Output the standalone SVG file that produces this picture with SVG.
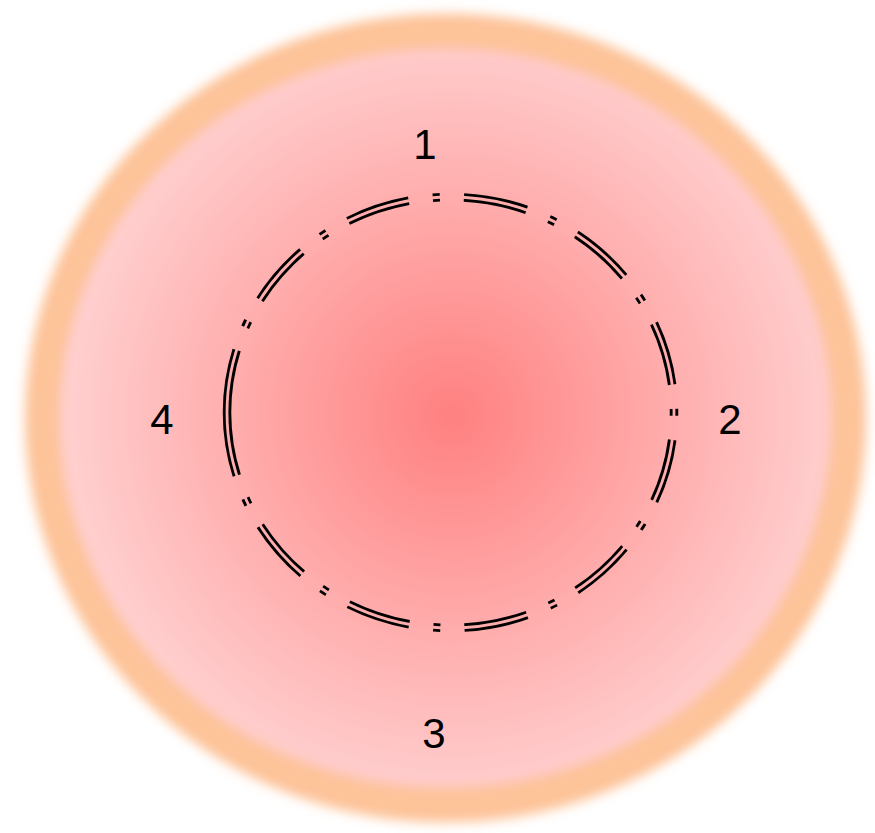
<svg xmlns="http://www.w3.org/2000/svg" width="875" height="833" viewBox="0 0 875 833">
<style>
.label{font-family:"Liberation Sans",Arial,sans-serif;font-size:42px;fill:#000;text-anchor:middle}
.ring{fill:none;stroke:#000;stroke-width:8.5;stroke-dasharray:64 24.25 7 24.25}
</style>
<defs>
<radialGradient id="fillGrad" gradientUnits="userSpaceOnUse" cx="452" cy="415" r="390">
<stop offset="0" stop-color="#ff8080"/>
<stop offset="1" stop-color="#ffd0d0"/>
</radialGradient>
<filter id="soft" x="-10%" y="-10%" width="120%" height="120%">
<feGaussianBlur stdDeviation="6"/>
</filter>
<mask id="doubleLine" maskUnits="userSpaceOnUse" x="0" y="0" width="875" height="833">
<rect width="875" height="833" fill="#fff"/>
<path d="M 227 412.5 A 223.5 215.5 0 0 0 674 412.5 A 223.5 215.5 0 0 0 227 412.5 Z" fill="none" stroke="#000" stroke-width="2.8"/>
</mask>
</defs>
<g id="disc">
<ellipse cx="445.5" cy="418" rx="403" ry="387" fill="url(#fillGrad)" stroke="#fdc399" stroke-width="35" filter="url(#soft)"/>
</g>
<g id="connectors">
<path class="ring" pathLength="1378" mask="url(#doubleLine)" d="M 227 412.5 A 223.5 215.5 0 0 0 674 412.5 A 223.5 215.5 0 0 0 227 412.5 Z"/>
</g>
<g id="label-1"><text class="label" x="425" y="159">1</text></g>
<g id="label-2"><text class="label" x="730" y="434">2</text></g>
<g id="label-3"><text class="label" x="434" y="748">3</text></g>
<g id="label-4"><text class="label" x="162" y="434">4</text></g>
</svg>
